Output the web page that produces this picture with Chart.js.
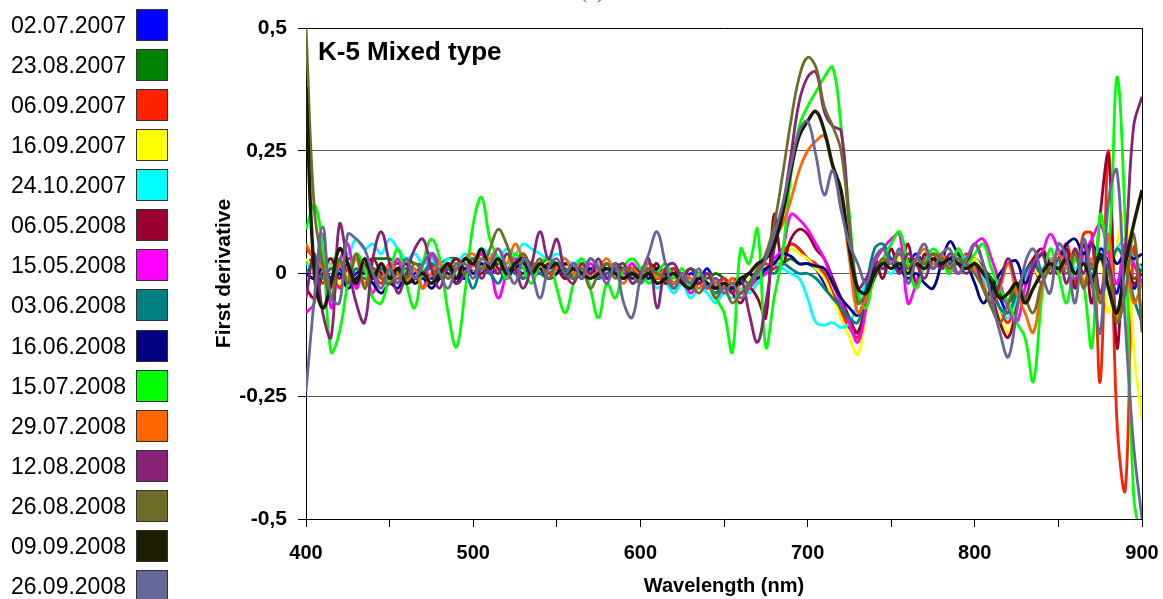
<!DOCTYPE html>
<html>
<head>
<meta charset="utf-8">
<script src="https://cdn.jsdelivr.net/npm/chart.js@4.4.1/dist/chart.umd.min.js"></script>
<style>
  html, body { margin: 0; padding: 0; background: #fff; }
  #wrap { position: relative; width: 1163px; height: 599px; overflow: hidden; }
  #chart { position: absolute; left: 0; top: 0; }
  #legend { position: absolute; left: 0; top: 0; font-family: 'Liberation Sans', Arial, sans-serif; font-size: 23px; color: #000; }
  .row { position: absolute; left: 0; width: 170px; height: 32px; }
  .row span { position: absolute; right: 44px; top: 50%; transform: translateY(-50%); white-space: nowrap; }
  .row i { position: absolute; left: 136px; top: 0; width: 30px; height: 30px; border: 1px solid #333; }
</style>
</head>
<body>
<div id="wrap">
  <canvas id="chart" width="1163" height="599"></canvas>
  <div id="legend"></div>
</div>
<script>
// ── Text ──
const CHART_LABEL = 'K-5 Mixed type';
const PANEL_TAG   = '(c)';
const X_TITLE     = 'Wavelength (nm)';
const Y_TITLE     = 'First derivative';

// ── Wavelengths (nm) ──
const WAVELENGTHS = [
  400,405,410,415,420,425,430,435,440,445,
  450,455,460,465,470,475,480,485,490,495,
  500,505,510,515,520,525,530,535,540,545,
  550,555,560,565,570,575,580,585,590,595,
  600,605,610,615,620,625,630,635,640,645,
  650,655,660,665,670,675,680,685,690,695,
  700,705,710,715,720,725,730,735,740,745,
  750,755,760,765,770,775,780,785,790,795,
  800,805,810,815,820,825,830,835,840,845,
  850,855,860,865,870,875,880,885,890,895,
  900
];

// ── Series (first derivative) ──
const D_020707 = [
  0.00,-0.01,0.02,-0.01,0.01,-0.02,0.00,0.01,-0.02,0.00,
  -0.01,0.01,-0.02,0.00,0.01,-0.01,0.00,0.02,0.00,-0.01,
  0.01,0.02,0.00,0.01,-0.01,0.01,0.00,0.02,0.01,0.00,
  0.01,-0.01,0.00,0.01,0.00,-0.01,0.01,0.00,0.01,-0.01,
  0.00,0.01,-0.01,0.00,0.01,-0.02,0.00,-0.01,0.01,-0.02,
  -0.01,-0.03,-0.02,0.00,-0.02,0.01,0.02,0.04,0.06,0.05,
  0.03,0.01,-0.02,-0.05,-0.08,-0.11,-0.12,-0.06,0.00,0.02,
  0.03,0.01,0.02,0.04,0.02,0.03,0.01,0.03,0.04,0.02,
  0.03,0.01,-0.02,-0.05,-0.08,-0.04,-0.01,0.02,0.00,0.03,
  0.01,0.04,0.00,0.03,-0.02,0.05,0.02,-0.04,0.06,-0.03,
  0.02
];
const D_230807 = [
  0.02,0.03,0.02,0.03,0.02,0.03,0.03,0.02,0.03,0.03,
  0.03,0.02,0.03,0.02,0.02,0.03,0.02,0.03,0.03,0.02,
  0.02,0.03,0.02,0.02,0.03,0.02,0.03,0.02,0.02,0.03,
  0.02,0.01,0.02,0.02,0.01,0.02,0.01,0.02,0.01,0.01,
  0.01,0.02,0.01,0.00,0.01,0.00,0.01,0.00,-0.01,0.00,
  -0.01,-0.02,-0.01,-0.02,-0.01,0.00,0.01,0.02,0.03,0.02,
  0.02,0.01,-0.01,-0.04,-0.07,-0.10,-0.12,-0.06,-0.01,0.02,
  0.03,0.02,0.03,0.02,0.03,0.04,0.03,0.02,0.03,0.03,
  0.02,0.01,-0.01,-0.04,-0.06,-0.03,0.00,0.02,0.01,0.02,
  0.01,0.02,0.00,0.02,-0.01,0.03,0.01,-0.02,0.03,-0.01,
  0.01
];
const D_060907 = [
  0.05,0.03,-0.02,0.02,-0.03,0.01,-0.02,0.02,0.00,-0.02,
  0.01,-0.01,0.02,-0.02,0.00,0.01,-0.01,0.02,0.01,0.03,
  0.02,0.04,0.01,0.03,0.00,0.02,-0.01,0.01,0.02,0.00,
  0.01,0.02,-0.01,0.01,0.00,0.02,-0.01,0.01,0.00,0.02,
  -0.01,0.01,0.00,-0.02,0.01,-0.01,-0.03,0.00,-0.02,-0.03,
  -0.01,-0.04,-0.02,-0.03,0.00,0.02,0.01,0.04,0.06,0.05,
  0.03,0.02,0.00,-0.04,-0.08,-0.11,-0.13,-0.07,0.00,0.03,
  0.02,0.04,0.01,0.03,0.02,0.04,0.01,0.03,0.02,0.04,
  0.02,0.00,-0.03,-0.07,-0.10,-0.05,-0.02,0.01,-0.02,0.02,
  0.03,0.06,-0.02,0.08,0.08,-0.22,0.25,-0.30,-0.44,0.05,
  -0.10
];
const D_160907 = [
  0.03,0.01,-0.01,0.02,-0.02,0.00,-0.01,0.01,-0.01,0.00,
  -0.02,0.00,0.01,-0.01,0.01,0.00,0.02,0.01,0.00,0.02,
  0.01,0.03,0.02,0.01,0.03,0.01,0.02,0.00,0.01,0.02,
  0.00,0.01,0.02,0.00,-0.01,0.01,0.00,0.01,-0.01,0.00,
  0.01,-0.01,0.00,0.01,-0.02,0.00,-0.02,-0.01,-0.03,-0.02,
  -0.03,-0.02,-0.04,-0.01,-0.02,0.01,0.02,0.03,0.05,0.04,
  0.03,0.01,-0.01,-0.05,-0.09,-0.13,-0.165,-0.08,0.00,0.02,
  0.01,0.03,0.02,0.01,0.03,0.02,0.04,0.02,0.03,0.01,
  0.03,0.00,-0.04,-0.09,-0.12,-0.06,-0.02,0.01,-0.01,0.02,
  0.00,0.03,-0.03,0.02,-0.05,0.04,-0.08,0.06,0.12,-0.15,
  -0.30
];
const D_241007 = [
  0.02,0.01,0.03,0.02,0.05,0.04,0.07,0.05,0.06,0.04,
  0.07,0.05,0.03,0.04,0.02,0.03,0.01,0.03,0.02,0.04,
  0.03,0.05,0.04,0.03,0.05,0.04,0.06,0.05,0.04,0.03,
  0.04,0.03,0.02,0.03,0.01,0.02,0.00,0.01,-0.01,0.00,
  -0.02,-0.01,-0.03,-0.02,-0.04,-0.02,-0.05,-0.03,-0.04,-0.06,
  -0.04,-0.05,-0.03,-0.04,-0.02,0.00,0.02,0.01,0.00,-0.01,
  -0.05,-0.10,-0.105,-0.10,-0.11,-0.10,-0.06,-0.02,0.00,0.01,
  0.00,0.02,0.01,0.03,0.02,0.01,0.03,0.02,0.04,0.03,
  0.01,-0.01,-0.04,-0.07,-0.09,-0.05,-0.01,0.02,0.01,0.03,
  0.02,0.04,0.01,0.03,0.00,0.04,0.02,0.05,0.07,0.03,
  0.01
];
const D_060508 = [
  -0.03,-0.05,0.00,0.03,-0.01,0.02,-0.02,0.01,0.03,0.00,
  -0.02,0.01,0.02,-0.01,0.00,0.02,-0.01,0.01,0.03,0.01,
  0.02,0.00,0.03,0.01,-0.01,0.02,0.04,0.01,0.00,0.02,
  0.01,-0.01,0.02,0.00,0.03,0.01,-0.01,0.02,0.00,0.01,
  -0.01,0.00,0.02,-0.02,0.00,-0.01,-0.03,-0.01,-0.02,-0.04,
  -0.02,-0.04,-0.06,-0.03,-0.05,-0.09,0.12,0.02,0.07,0.09,
  0.08,0.05,0.03,-0.01,-0.05,-0.09,-0.12,-0.06,0.03,-0.01,
  0.05,0.00,0.06,-0.02,0.04,0.01,0.03,0.00,0.05,0.02,
  0.06,0.02,-0.04,-0.10,-0.13,-0.07,0.00,0.03,0.05,0.02,
  0.00,0.05,-0.03,0.06,-0.06,0.12,0.24,-0.15,0.03,-0.02,
  0.00
];
const D_150508 = [
  -0.08,-0.06,0.08,-0.07,0.02,0.06,-0.03,0.01,-0.04,0.02,
  -0.01,0.03,-0.02,0.01,-0.03,0.04,0.02,-0.01,0.01,0.00,
  0.02,0.04,0.01,-0.05,0.00,0.03,0.01,0.02,0.00,0.01,
  0.02,0.00,0.01,-0.01,0.02,0.00,-0.01,0.01,0.00,0.02,
  0.00,-0.01,0.01,0.00,-0.02,-0.01,-0.04,-0.02,-0.03,-0.01,
  -0.03,-0.02,-0.04,-0.03,-0.01,0.00,0.03,0.05,0.12,0.11,
  0.09,0.06,0.03,-0.02,-0.06,-0.10,-0.14,-0.07,0.02,0.05,
  0.07,0.08,-0.06,-0.02,0.03,0.01,0.04,0.02,0.00,0.03,
  0.06,0.07,0.03,-0.02,-0.07,-0.10,-0.03,0.02,0.04,0.08,
  0.05,0.02,-0.01,0.04,0.07,0.10,0.04,-0.02,0.06,0.02,
  -0.02
];
const D_030608 = [
  0.00,0.02,-0.01,0.01,0.00,-0.02,0.01,-0.01,0.00,0.01,
  -0.01,0.00,0.01,-0.01,0.00,0.02,0.00,0.01,-0.02,0.00,
  -0.03,0.01,0.00,-0.02,0.01,0.00,-0.01,0.01,0.00,-0.01,
  0.00,0.01,-0.01,0.00,0.01,-0.01,0.00,0.01,-0.01,0.00,
  0.01,0.00,-0.01,0.00,-0.02,0.00,-0.03,-0.01,-0.02,-0.04,
  -0.02,-0.03,-0.01,-0.02,0.00,0.01,0.00,0.02,0.01,0.00,
  0.00,-0.01,-0.03,-0.05,-0.07,-0.09,-0.10,-0.03,0.05,0.06,
  0.03,0.02,0.01,0.03,0.02,0.03,0.01,0.02,0.03,0.01,
  0.02,0.00,-0.03,-0.07,-0.08,-0.04,0.00,0.02,0.00,0.02,
  0.01,0.03,0.00,0.02,0.01,0.03,0.00,0.05,0.02,-0.05,
  -0.10
];
const D_160608 = [
  0.00,-0.01,0.01,-0.02,0.00,-0.03,-0.01,0.00,-0.02,-0.04,
  -0.02,-0.03,0.00,-0.02,-0.01,-0.03,-0.01,0.00,-0.02,0.01,
  0.00,0.02,0.01,0.03,0.00,0.01,0.02,0.00,0.01,-0.01,
  0.00,0.02,0.01,-0.01,0.01,0.00,0.02,0.00,-0.01,0.01,
  0.00,-0.01,0.01,0.00,-0.02,0.00,-0.01,-0.02,0.00,-0.02,
  -0.03,-0.01,-0.02,0.00,-0.01,0.01,0.02,0.04,0.035,0.02,
  0.02,0.015,0.01,-0.02,-0.05,-0.07,-0.085,-0.04,0.01,0.02,
  0.02,0.01,-0.01,0.00,-0.02,-0.03,0.02,0.065,0.04,0.02,
  -0.02,-0.06,-0.03,0.00,0.02,0.025,-0.02,0.01,0.04,0.02,
  0.03,0.06,0.07,0.04,0.06,0.03,0.05,0.02,0.04,0.03,
  0.04
];
const D_150708 = [
  0.09,0.14,0.05,-0.16,-0.12,-0.02,0.04,0.01,-0.05,-0.06,
  0.00,0.05,-0.02,-0.07,0.02,0.07,0.03,-0.08,-0.15,-0.04,
  0.10,0.155,0.07,0.03,-0.01,0.04,0.01,-0.02,0.02,0.03,
  -0.03,-0.08,-0.02,0.03,-0.03,-0.09,-0.02,-0.05,0.01,0.03,
  0.01,-0.02,0.00,0.02,-0.01,0.01,-0.03,0.00,-0.02,-0.05,
  -0.08,-0.16,0.05,0.02,0.09,-0.15,-0.05,0.04,0.20,0.30,
  0.34,0.37,0.40,0.42,0.30,0.12,-0.04,-0.07,0.00,0.03,
  0.06,0.085,0.02,-0.03,0.02,0.05,0.03,0.00,0.05,0.02,
  0.04,0.06,0.01,-0.03,-0.06,-0.10,-0.13,-0.22,-0.05,0.05,
  0.00,-0.06,0.03,-0.02,-0.15,0.12,0.05,0.40,0.10,-0.45,
  -0.55
];
const D_290708 = [
  0.06,0.03,0.01,-0.03,0.02,-0.01,0.03,-0.02,0.01,-0.01,
  0.02,0.00,-0.02,0.01,-0.03,0.00,0.02,-0.01,0.01,0.03,
  0.04,0.01,0.03,0.05,0.02,0.06,0.03,0.01,0.02,-0.01,
  0.01,0.03,0.00,0.02,-0.01,0.01,0.03,0.00,-0.02,0.01,
  0.00,0.02,-0.01,0.01,-0.02,0.00,-0.01,-0.03,0.00,-0.02,
  -0.03,-0.01,-0.04,-0.02,0.00,0.03,0.07,0.10,0.15,0.21,
  0.25,0.27,0.28,0.22,0.15,0.03,-0.08,-0.05,0.00,0.03,
  0.02,0.04,0.01,0.03,0.05,0.02,0.04,0.01,0.03,0.02,
  0.01,-0.02,-0.06,-0.03,0.02,-0.04,-0.08,-0.12,-0.03,0.02,
  0.04,0.01,0.05,-0.02,0.03,-0.05,0.08,-0.10,0.02,-0.06,
  -0.02
];
const D_120808 = [
  -0.05,0.04,-0.08,-0.13,0.10,0.02,-0.06,-0.10,0.03,0.085,
  0.02,-0.04,0.00,0.05,0.07,0.01,-0.03,0.02,-0.02,0.00,
  0.03,-0.01,0.02,0.00,0.04,0.01,-0.03,0.02,0.085,0.03,
  0.07,0.00,-0.02,0.02,0.00,0.03,-0.01,0.01,0.02,-0.02,
  0.00,0.03,-0.07,0.01,0.02,-0.01,0.01,-0.02,0.00,-0.03,
  -0.02,-0.04,-0.01,-0.08,-0.14,-0.06,0.05,0.13,0.24,0.35,
  0.40,0.41,0.33,0.30,0.29,0.10,-0.03,-0.01,0.02,0.01,
  0.03,0.00,0.04,0.02,-0.01,0.03,0.01,0.04,0.02,0.00,
  0.02,-0.03,-0.06,-0.02,0.03,-0.02,-0.05,0.01,0.04,0.00,
  0.03,-0.02,0.05,0.00,0.06,-0.04,0.02,-0.08,0.05,0.30,
  0.36
];
const D_260808 = [
  0.50,0.13,0.02,-0.05,0.03,-0.02,0.04,-0.03,0.01,-0.01,
  -0.02,0.01,-0.01,0.02,0.00,-0.02,0.01,-0.01,0.02,0.00,
  0.03,0.01,0.05,0.09,0.06,0.02,0.04,0.01,0.03,-0.01,
  0.02,0.00,-0.01,0.01,-0.03,0.00,0.02,-0.01,0.01,0.00,
  -0.02,0.01,0.00,-0.01,-0.03,-0.01,-0.02,-0.04,-0.02,-0.05,
  -0.03,-0.06,-0.04,-0.02,0.01,0.04,0.10,0.20,0.31,0.40,
  0.44,0.42,0.34,0.30,0.25,0.10,-0.06,-0.04,0.00,0.03,
  0.02,0.04,0.01,0.03,0.02,0.04,0.03,0.01,0.03,0.02,
  0.00,-0.03,-0.07,-0.10,-0.06,-0.02,-0.05,-0.08,-0.02,0.01,
  0.03,0.00,0.04,-0.03,0.02,-0.06,0.00,-0.10,-0.04,0.08,
  -0.12
];
const D_090908 = [
  0.38,0.00,-0.07,-0.02,0.05,0.02,-0.02,0.03,-0.01,0.02,
  -0.01,0.01,-0.02,-0.01,0.00,-0.02,0.00,0.02,-0.01,0.03,
  0.02,0.05,0.01,0.03,0.00,0.02,0.03,0.00,0.02,0.01,
  0.02,0.00,0.01,0.00,-0.01,0.00,0.01,0.00,-0.01,0.00,
  -0.01,0.00,-0.02,-0.01,0.00,-0.02,-0.03,-0.01,-0.02,-0.03,
  -0.02,-0.03,-0.01,0.00,0.02,0.03,0.06,0.12,0.21,0.28,
  0.31,0.33,0.29,0.22,0.17,0.05,-0.03,-0.04,0.00,0.02,
  0.01,0.02,0.00,0.02,0.01,0.03,0.02,0.03,0.02,0.01,
  0.02,0.00,-0.02,-0.05,-0.04,-0.02,-0.06,-0.03,0.00,0.02,
  0.01,0.03,0.00,0.02,-0.01,0.04,-0.03,-0.08,0.02,0.10,
  0.17
];
const D_260908 = [
  -0.24,-0.05,0.095,-0.05,-0.06,0.08,0.07,0.05,0.00,-0.03,
  0.01,-0.02,0.03,-0.01,0.02,0.04,0.00,-0.03,0.01,0.02,
  -0.01,0.03,0.02,0.05,0.01,-0.02,0.03,0.00,-0.05,0.01,
  0.03,0.00,0.02,-0.01,0.03,0.01,-0.02,0.02,-0.06,-0.09,
  -0.01,0.04,0.085,0.02,-0.03,0.00,-0.02,0.01,-0.03,-0.01,
  -0.04,-0.02,-0.05,-0.03,0.00,0.03,0.08,0.14,0.22,0.29,
  0.31,0.24,0.16,0.21,0.13,0.06,0.02,-0.02,0.03,0.05,
  0.02,0.05,-0.02,0.03,0.06,0.01,0.04,0.05,0.00,0.03,
  0.06,0.02,-0.05,-0.12,-0.17,-0.08,0.02,0.05,0.00,-0.04,
  0.06,0.03,-0.06,0.07,-0.02,-0.12,0.15,0.21,-0.10,-0.35,
  -0.50
];

const SERIES_NAMES = [
  '02.07.2007','23.08.2007','06.09.2007','16.09.2007','24.10.2007',
  '06.05.2008','15.05.2008','03.06.2008','16.06.2008','15.07.2008',
  '29.07.2008','12.08.2008','26.08.2008','09.09.2008','26.09.2008'
];
const SERIES_VALUES = [
  D_020707, D_230807, D_060907, D_160907, D_241007,
  D_060508, D_150508, D_030608, D_160608, D_150708,
  D_290708, D_120808, D_260808, D_090908, D_260908
];
const SERIES_COLORS = [
  '#0000FF','#008000','#FF2200','#FFFF00','#00FFFF',
  '#99002E','#FF00FF','#008080','#000080','#00FF00',
  '#FF6600','#882277','#6E6E2A','#1C1C00','#666699'
];

// y ticks use a decimal comma
const fmtComma = v => String(v).replace('.', ',');
const FONT = "'Liberation Sans', Arial, sans-serif";

// ── HTML legend (label left, swatch right) ──
const legendEl = document.getElementById('legend');
SERIES_NAMES.forEach((name, i) => {
  const row = document.createElement('div');
  row.className = 'row';
  row.style.top = (9 + i * 40.07) + 'px';
  row.innerHTML = '<span>' + name + '</span><i style="background:' + SERIES_COLORS[i] + '"></i>';
  legendEl.appendChild(row);
});

// ── Frame, inner label, panel tag ──
const annotate = {
  id: 'annotate',
  afterDraw(chart) {
    const { ctx, chartArea: a } = chart;
    ctx.save();
    ctx.strokeStyle = '#000';
    ctx.lineWidth = 1;
    const rx = Math.round(a.right) + 0.5;
    ctx.beginPath();
    ctx.moveTo(rx, a.top);
    ctx.lineTo(rx, a.bottom);
    ctx.stroke();

    ctx.fillStyle = '#000';
    ctx.font = 'bold 26px ' + FONT;
    ctx.textBaseline = 'alphabetic';
    ctx.fillText(CHART_LABEL, a.left + 12, a.top + 32);

    ctx.fillStyle = '#777';
    ctx.font = "22px 'Liberation Serif', serif";
    ctx.fillText(PANEL_TAG, 580, -2);
    ctx.restore();
  }
};

new Chart(document.getElementById('chart'), {
  type: 'line',
  data: {
    datasets: SERIES_VALUES.map((vals, i) => ({
      label: SERIES_NAMES[i],
      data: vals.map((y, k) => ({ x: WAVELENGTHS[k], y })),
      borderColor: SERIES_COLORS[i],
      borderWidth: i === 13 ? 3.4 : 2.8,
      pointRadius: 0,
      tension: 0.4,
      fill: false,
      order: SERIES_VALUES.length - i,
    }))
  },
  options: {
    responsive: false,
    animation: false,
    devicePixelRatio: 1,
    layout: { padding: { left: 200, top: 28, right: 21, bottom: 0 } },
    plugins: {
      legend: { display: false },
      tooltip: { enabled: false },
    },
    scales: {
      x: {
        type: 'linear',
        min: 400,
        max: 900,
        // fixed band height; no extra side padding for the end labels
        afterFit: s => { s.height = 80; s.paddingLeft = 0; s.paddingRight = 0; },
        ticks: {
          stepSize: 50,
          autoSkip: false,
          maxRotation: 0,
          padding: 14,
          color: '#000',
          font: { family: FONT, size: 20, weight: 'bold' },
          callback: v => (v % 100 === 0 ? v : ''),
        },
        grid: { drawOnChartArea: false, drawTicks: true, tickLength: 8, color: '#000' },
        border: { color: '#000', width: 1 },
        title: {
          display: true,
          text: X_TITLE,
          color: '#000',
          font: { family: FONT, size: 20, weight: 'bold' },
          padding: { top: 0, bottom: 1 },
        },
      },
      y: {
        min: -0.5,
        max: 0.5,
        afterFit: s => { s.width = 106; },
        ticks: {
          stepSize: 0.25,
          padding: 11,
          color: '#000',
          font: { family: FONT, size: 21, weight: 'bold' },
          callback: fmtComma,
        },
        grid: {
          color: c => (c.tick && c.tick.value === 0.5 ? '#000' : '#5a5a5a'),
          tickColor: '#000',
          tickLength: 8,
        },
        border: { color: '#000', width: 1 },
        title: {
          display: true,
          text: Y_TITLE,
          color: '#000',
          font: { family: FONT, size: 21, weight: 'bold' },
          padding: { top: 12, bottom: 0 },
        },
      }
    }
  },
  plugins: [annotate]
});
</script>
</body>
</html>
